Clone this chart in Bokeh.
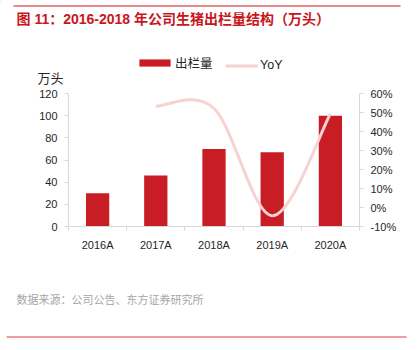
from bokeh.plotting import figure
from bokeh.models import (Range1d, LinearAxis, FixedTicker, PrintfTickFormatter,
                          Legend, LegendItem, ColumnDataSource)
from bokeh.layouts import column
from bokeh.core.properties import value
from bokeh.embed import file_html
from bokeh.resources import INLINE

years = ["2016A", "2017A", "2018A", "2019A", "2020A"]
output = [30, 46, 70, 67, 100]          # 万头
yoy = [None, 53.3, 52.2, -4.3, 49.3]     # %

left_ticks = [0, 20, 40, 60, 80, 100, 120]
right_ticks = [-10, 0, 10, 20, 30, 40, 50, 60]

title_text = "图 11：2016-2018 年公司生猪出栏量结构（万头）"
unit_text = "万头"
source_text = "数据来源：公司公告、东方证券研究所"
series_names = ["出栏量", "YoY"]

W = 418
TOP_H, MAIN_H, BOT_H = 87, 183, 80
FL, FR, FT, FB = 68, 359, 93, 226   # frame in page pixels
RED = "#C81D25"
PINK = "#F8D2D2"
AX = "#D9D9D9"
TXT = "#262626"
NUMF = "Liberation Sans, Noto Sans CJK SC"
CJK = "Noto Sans CJK SC"


def blank(h):
    f = figure(width=W, height=h, output_backend="svg", toolbar_location=None,
               x_range=Range1d(0, W), y_range=Range1d(h, 0),
               min_border=0, x_axis_location=None, y_axis_location=None)
    f.frame_align = False
    f.outline_line_color = None
    f.xgrid.visible = False
    f.ygrid.visible = False
    return f


# ---------------- top strip: rule, title, legend, unit ----------------
top = blank(TOP_H)
top.segment(x0=[13], y0=[5.5], x1=[400], y1=[5.5], line_color="#C8161D", line_width=1)
top.text(x=[16], y=[18], text=[title_text], text_font=value(NUMF), text_font_style="bold",
         text_font_size="14px", text_color="#C8161D", text_baseline="middle")
top.text(x=[37], y=[76.5], text=[unit_text], text_font=value(CJK), text_font_size="13px",
         text_color=TXT, text_baseline="middle")
# legend proxies, placed outside the visible range so only their legend swatches show
dummy_bar = top.vbar(x=[-1000], top=[1], width=1, fill_color=RED, line_color=None)
dummy_line = top.line(x=[-1000, -999], y=[1, 1], line_color=PINK, line_width=3)
leg1 = Legend(items=[LegendItem(label=series_names[0], renderers=[dummy_bar])], location=(135, 15),
              glyph_width=39, glyph_height=9, label_standoff=1)
leg2 = Legend(items=[LegendItem(label=series_names[1], renderers=[dummy_line])], location=(225, 15),
              glyph_width=33, glyph_height=9, label_standoff=2)
for lg in (leg1, leg2):
    lg.orientation = "horizontal"
    lg.padding = 0
    lg.margin = 0
    lg.border_line_color = None
    lg.background_fill_alpha = 0
    lg.label_text_font = NUMF
    lg.label_text_font_size = "12.5px"
    lg.label_text_color = TXT
    top.add_layout(lg, "center")

# ---------------- main chart ----------------
p = figure(width=W, height=MAIN_H, output_backend="svg", toolbar_location=None,
           x_range=Range1d(-0.5, len(years) - 0.5), y_range=Range1d(0, 120),
           min_border_left=FL, min_border_right=W - FR, min_border_top=FT - TOP_H,
           min_border_bottom=TOP_H + MAIN_H - FB, x_axis_location=None, y_axis_location=None)
p.frame_align = False
p.outline_line_color = None
p.xgrid.visible = False
p.ygrid.visible = False
p.extra_y_ranges = {"pct": Range1d(-10, 60)}

xs = list(range(len(years)))
src = ColumnDataSource(dict(x=xs, top=output))
p.vbar(x="x", top="top", width=0.4, source=src, fill_color=RED, line_color=None)

# smoothed YoY line drawn with bezier segments through the data points
pts = [(i, v) for i, v in enumerate(yoy) if v is not None]
seg = dict(x0=[], y0=[], x1=[], y1=[], cx0=[], cy0=[], cx1=[], cy1=[])
for k in range(len(pts) - 1):
    p0 = pts[k - 1] if k > 0 else pts[k]
    p1 = pts[k]
    p2 = pts[k + 1]
    p3 = pts[k + 2] if k + 2 < len(pts) else pts[k + 1]
    seg["x0"].append(p1[0]); seg["y0"].append(p1[1])
    seg["x1"].append(p2[0]); seg["y1"].append(p2[1])
    seg["cx0"].append(p1[0] + (p2[0] - p0[0]) / 6); seg["cy0"].append(p1[1] + (p2[1] - p0[1]) / 6)
    seg["cx1"].append(p2[0] - (p3[0] - p1[0]) / 6); seg["cy1"].append(p2[1] - (p3[1] - p1[1]) / 6)
p.bezier(source=ColumnDataSource(seg), x0="x0", y0="y0", x1="x1", y1="y1",
         cx0="cx0", cy0="cy0", cx1="cx1", cy1="cy1",
         line_color=PINK, line_width=3, y_range_name="pct")

xax = LinearAxis(ticker=FixedTicker(ticks=xs, minor_ticks=[i - 0.5 for i in range(len(years) + 1)]),
                 major_label_overrides={i: y for i, y in enumerate(years)})
xax.major_tick_out = 0
xax.major_tick_in = 0
xax.minor_tick_out = 4
xax.minor_tick_in = 0
xax.minor_tick_line_color = AX
xax.axis_line_color = AX
xax.major_label_standoff = 8
xax.major_label_text_font = NUMF
xax.major_label_text_font_size = "11px"
xax.major_label_text_color = TXT
p.add_layout(xax, "below")

lax = LinearAxis(ticker=FixedTicker(ticks=left_ticks))
rax = LinearAxis(ticker=FixedTicker(ticks=right_ticks), y_range_name="pct",
                 formatter=PrintfTickFormatter(format="%d%%"))
for ax in (lax, rax):
    ax.axis_line_color = AX
    ax.major_tick_line_color = AX
    ax.major_tick_out = 4
    ax.major_tick_in = 0
    ax.minor_tick_line_color = None
    ax.major_label_standoff = 7
    ax.major_label_text_font = NUMF
    ax.major_label_text_font_size = "11px"
    ax.major_label_text_color = TXT
p.add_layout(lax, "left")
p.add_layout(rax, "right")

# ---------------- bottom strip: source, rule ----------------
bot = blank(BOT_H)
y0 = TOP_H + MAIN_H
bot.text(x=[16], y=[298 - y0], text=[source_text], text_font=value(CJK), text_font_size="11px",
         text_color="#A6A6A6", text_baseline="middle")
bot.segment(x0=[6], y0=[336.5 - y0], x1=[406], y1=[336.5 - y0], line_color="#E0393E", line_width=1)

layout = column(top, p, bot, spacing=0)
open("out.html", "w").write(file_html(layout, INLINE))
